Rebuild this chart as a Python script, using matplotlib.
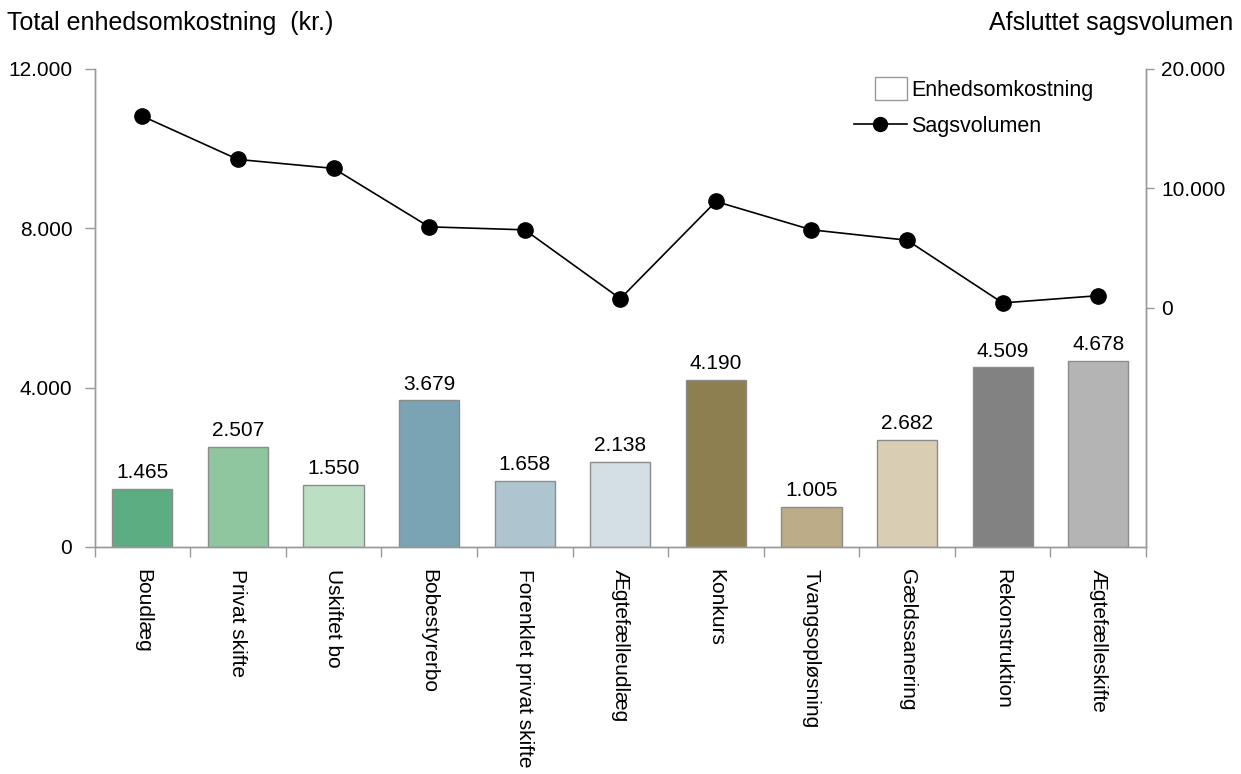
import matplotlib
matplotlib.use("Agg")
import matplotlib.pyplot as plt
from matplotlib.ticker import FuncFormatter, FixedLocator
from matplotlib.lines import Line2D
from matplotlib.patches import Patch, Rectangle
from matplotlib.legend_handler import HandlerPatch

plt.rcParams['font.family'] = ['Liberation Sans', 'DejaVu Sans']

categories = ["Boudlæg", "Privat skifte", "Uskiftet bo", "Bobestyrerbo",
              "Forenklet privat skifte", "Ægtefælleudlæg", "Konkurs",
              "Tvangsopløsning", "Gældssanering", "Rekonstruktion",
              "Ægtefælleskifte"]
unit_cost = [1465, 2507, 1550, 3679, 1658, 2138, 4190, 1005, 2682, 4509, 4678]
case_volume = [16050, 12430, 11680, 6790, 6540, 780, 8910, 6540, 5670, 420, 1030]
bar_colors = ["#5cad82", "#8fc6a0", "#bcdfc4", "#7aa3b4", "#aec5cf", "#d3dfe5",
              "#8e7f50", "#bcac87", "#d9cdb4", "#828282", "#b4b4b4"]

FS = 15
TITLE_FS = 18


def thousands(v, _pos=None):
    return f"{int(round(v)):,}".replace(",", ".")


def small_box(legend, orig_handle, xdescent, ydescent, width, height, fontsize):
    # narrow square swatch placed at the right end of the handle slot
    w, h = 22.5, 16.5
    x0 = -xdescent + width - w
    y0 = -ydescent + (height - h) / 2.0
    return Rectangle((x0, y0), w, h)


fig = plt.figure(figsize=(12.41, 7.74), dpi=100)
ax = fig.add_axes([0.0762, 0.2933, 0.8473, 0.6176])
ax2 = ax.twinx()

axis_grey = "#999999"
x = list(range(len(categories)))

ax.bar(x, unit_cost, width=0.63, color=bar_colors,
       edgecolor="#8c8c8c", linewidth=1.0, zorder=2)
for xi, v in zip(x, unit_cost):
    ax.text(xi, v + 170, thousands(v), ha="center", va="bottom", fontsize=FS)

ax.set_xlim(-0.5, len(categories) - 0.5)
ax.set_ylim(0, 12000)
ax.set_yticks([0, 4000, 8000, 12000])
ax.yaxis.set_major_formatter(FuncFormatter(thousands))
ax.set_xticks(x)
ax.set_xticklabels(categories, rotation=270, fontsize=FS, va="top", ha="center")
ax.xaxis.set_minor_locator(FixedLocator([i - 0.5 for i in range(len(categories) + 1)]))
ax.tick_params(axis="x", which="major", length=0, pad=16)
ax.tick_params(axis="x", which="minor", length=7, color=axis_grey, width=1)
ax.tick_params(axis="y", length=7, color=axis_grey, width=1, labelsize=FS, pad=9)

ax.spines["top"].set_visible(False)
ax2.spines["top"].set_visible(False)
for sp in ("left", "bottom", "right"):
    for a in (ax, ax2):
        a.spines[sp].set_color(axis_grey)
        a.spines[sp].set_linewidth(1)

ax2.plot(x, case_volume, color="black", linewidth=1.2, marker="o",
         markersize=11, zorder=3)
ax2.set_ylim(-20000, 20000)
ax2.set_yticks([0, 10000, 20000])
ax2.yaxis.set_major_formatter(FuncFormatter(thousands))
ax2.tick_params(axis="y", length=6, color=axis_grey, width=1, labelsize=FS, pad=5)

fig.text(0.006, 0.970, "Total enhedsomkostning  (kr.)", fontsize=TITLE_FS,
         ha="left", va="center")
fig.text(0.994, 0.970, "Afsluttet sagsvolumen", fontsize=TITLE_FS,
         ha="right", va="center")

box_handle = Patch(facecolor="white", edgecolor="#999999", linewidth=1)
line_handle = Line2D([0], [0], color="black", linewidth=1.2, marker="o",
                     markersize=10)
fig.legend([box_handle, line_handle], ["Enhedsomkostning", "Sagsvolumen"],
           loc="upper left", bbox_to_anchor=(854 / 1241, 1 - 80 / 774),
           frameon=False, fontsize=15.5, borderpad=0, borderaxespad=0,
           handlelength=2.45, handletextpad=0.2, labelspacing=0.68,
           handler_map={Patch: HandlerPatch(patch_func=small_box)})

fig.savefig("out.png", dpi=100, facecolor="white")
